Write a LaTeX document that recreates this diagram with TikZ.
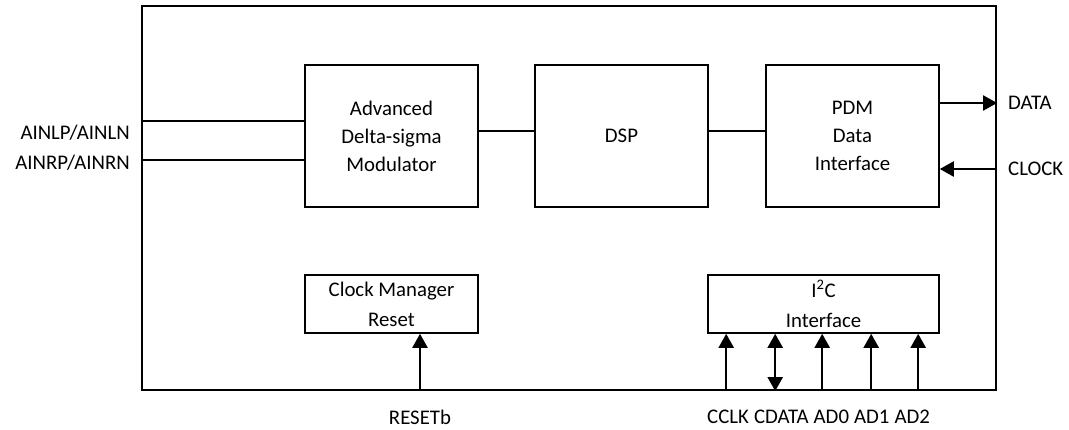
\documentclass[tikz,border=0pt]{standalone}
\usepackage{fontspec}
\setmainfont{Carlito}
\usetikzlibrary{arrows.meta,positioning}

\begin{document}
\begin{tikzpicture}[x=1pt, y=-1pt,
    blk/.style={draw, line width=1.6pt, align=center, inner sep=0pt, minimum width=173pt, font=\fontsize{20.8}{28}\selectfont},
    lowblk/.style={blk, minimum height=58pt, font=\fontsize{20.8}{30}\selectfont},
    sig/.style={-{Triangle[width=15pt,length=14pt]}, line width=2.2pt},
    bisig/.style={{Triangle[width=15pt,length=14pt]}-{Triangle[width=15pt,length=14pt]}, line width=2.2pt},
    wire/.style={line width=2pt},
    pinlbl/.style={inner sep=0pt, font=\fontsize{20.8}{24}\selectfont}
]
\useasboundingbox (0,0) rectangle (1069,430);

% chip outline
\node[draw, line width=2.2pt, inner sep=0pt, minimum width=854pt, minimum height=384pt] (chip) at (569,198) {};

% signal path
\node[blk, minimum height=142pt] (adc) at (391.5,136) {Advanced\\Delta-sigma\\Modulator};
\node[blk, minimum height=142pt] (dsp) at (621.5,136) {DSP};
\node[blk, minimum height=142pt] (pdm) at (852.5,136) {PDM\\Data\\Interface};

% control blocks
\node[lowblk] (clkmgr) at (391.5,304) {Clock Manager\\Reset};
\node[lowblk, minimum width=231pt] (i2c) at (823.5,304) {I\textsuperscript{2}C\\Interface};

\draw[wire] ([yshift=5pt]adc.east) -- ([yshift=5pt]dsp.west);
\draw[wire] ([yshift=5pt]dsp.east) -- ([yshift=5pt]pdm.west);

% analog inputs
\node[pinlbl, anchor=east] (ainl) at (130,133) {AINLP/AINLN};
\node[pinlbl, anchor=east] (ainr) at (130,163) {AINRP/AINRN};
\coordinate (inl) at (142,121);
\coordinate (inr) at (142,160);
\draw[wire] (inl) -- (inl -| adc.west);
\draw[wire] (inr) -- (inr -| adc.west);

% PDM pins
\node[pinlbl, anchor=west] (data) at (1008,103) {DATA};
\node[pinlbl, anchor=west] (clock) at (1008,169) {CLOCK};
\draw[sig] (pdm.east |- data) -- (chip.east |- data);
\draw[sig] (chip.east |- clock) -- (pdm.east |- clock);

% reset pin
\node[pinlbl] (rst) at (420,417) {RESETb};
\draw[sig] (rst |- chip.south) -- (rst |- clkmgr.south);

% I2C pins
\node[pinlbl, anchor=west] (cclk) at (707,417) {CCLK};
\node[pinlbl, right=4.7pt of cclk] (cdata) {CDATA};
\node[pinlbl, right=4.7pt of cdata] (ad0) {AD0};
\node[pinlbl, right=4.7pt of ad0] (ad1) {AD1};
\node[pinlbl, right=4.7pt of ad1] (ad2) {AD2};
\draw[sig] ([xshift=19pt]i2c.south west |- chip.south) -- ([xshift=19pt]i2c.south west);
\draw[bisig] ([xshift=68pt]i2c.south west |- chip.south) -- ([xshift=68pt]i2c.south west);
\draw[sig] ([xshift=115pt]i2c.south west |- chip.south) -- ([xshift=115pt]i2c.south west);
\draw[sig] ([xshift=164pt]i2c.south west |- chip.south) -- ([xshift=164pt]i2c.south west);
\draw[sig] ([xshift=211pt]i2c.south west |- chip.south) -- ([xshift=211pt]i2c.south west);
\end{tikzpicture}
\end{document}
